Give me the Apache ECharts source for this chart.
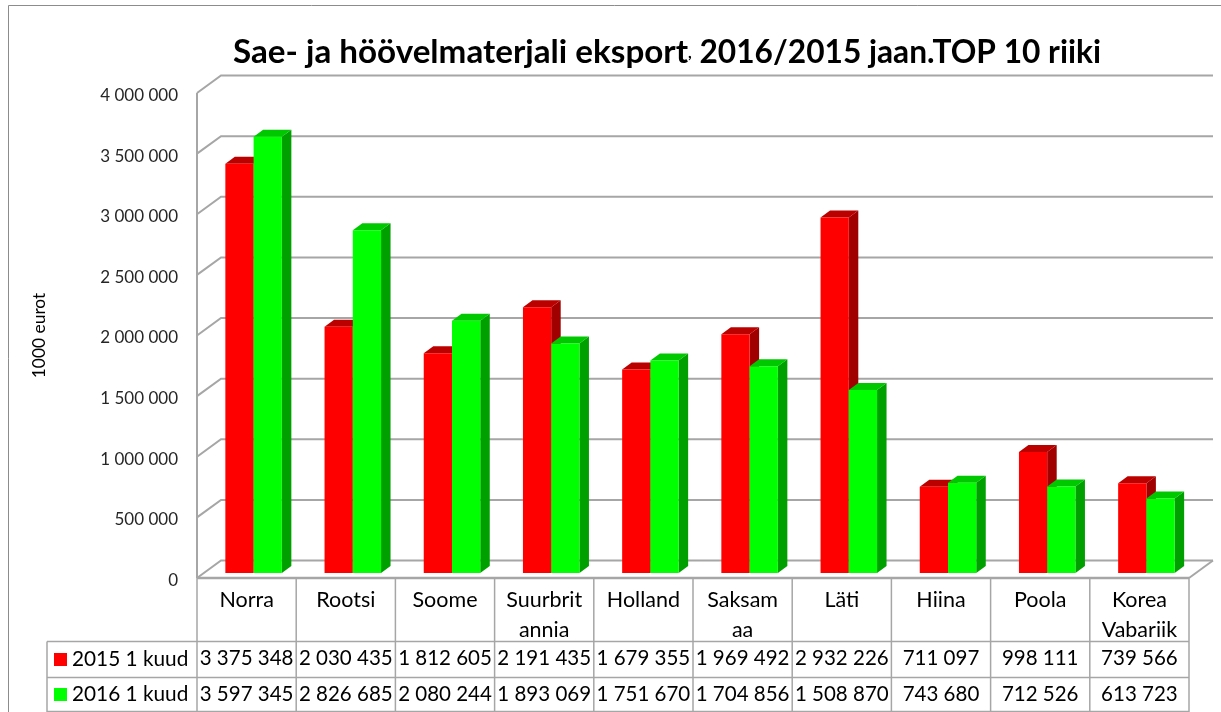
<!DOCTYPE html>
<html><head><meta charset="utf-8">
<style>html,body{margin:0;padding:0;background:#fff}#c{width:1221px;height:712px}</style>
<script src="https://cdn.jsdelivr.net/npm/echarts@6/dist/echarts.min.js"></script>
</head><body><div id="c"></div>
<script>
const categories = ['Norra','Rootsi','Soome','Suurbrit\nannia','Holland','Saksam\naa','Läti','Hiina','Poola','Korea\nVabariik'];
const values2015 = [3375348,2030435,1812605,2191435,1679355,1969492,2932226,711097,998111,739566];
const values2016 = [3597345,2826685,2080244,1893069,1751670,1704856,1508870,743680,712526,613723];
const yTicks = [0,500000,1000000,1500000,2000000,2500000,3000000,3500000,4000000];
const seriesNames = ['2015 1 kuud','2016 1 kuud'];

const FONT = 'Lato';
const GRID = {left:197, top:93, width:992, height:485};
const WALL = {dx:24, dy:-17.5};
const BASE = {dx:7, dy:-5};
const DEPTH = {dx:9.5, dy:-7};
const BAR_W = 28.25;
const LINE = '#a6a6a6', TXT = '#000';
const fmt = v => String(v).replace(/\B(?=(\d{3})+$)/g,' ');

function barRender(offset, front, top, side){
  return (params, api) => {
    const p = api.coord([api.value(0), api.value(1)]);
    const b = api.coord([api.value(0), 0]);
    const x1 = p[0] + BASE.dx + offset*BAR_W, x2 = x1 + BAR_W;
    const yt = p[1] + BASE.dy, yb = b[1] + BASE.dy;
    const d = DEPTH;
    return {type:'group', children:[
      {type:'polygon', shape:{points:[[x2,yb],[x2+d.dx,yb+d.dy],[x2+d.dx,yt+d.dy],[x2,yt]]}, style:{fill:side}},
      {type:'polygon', shape:{points:[[x1,yt],[x1+d.dx,yt+d.dy],[x2+d.dx,yt+d.dy],[x2,yt]]}, style:{fill:top}},
      {type:'rect', shape:{x:x1,y:yt,width:BAR_W,height:yb-yt}, style:{fill:front}}
    ]};
  };
}
function wallRender(params, api){
  const y = api.coord([0, api.value(0)])[1];
  const cs = params.coordSys;
  return {type:'polyline', shape:{points:[[cs.x,y],[cs.x+WALL.dx,y+WALL.dy],[cs.x+cs.width+WALL.dx,y+WALL.dy]]},
    style:{fill:'none',stroke:LINE,lineWidth:2}};
}
function rowRender(rowY, values){
  return (params, api) => {
    const c = api.coord([params.dataIndex, 0])[0];
    return {type:'text', style:{text:fmt(values[params.dataIndex]), x:c, y:rowY, align:'center', verticalAlign:'middle',
      font:'20.5px '+FONT, fill:TXT}};
  };
}
function floorRender(params){
  const cs = params.coordSys, b = cs.y+cs.height, r = cs.x+cs.width;
  const seg = (x1,y1,x2,y2,w)=>({type:'line',shape:{x1,y1,x2,y2},style:{stroke:LINE,lineWidth:w||1.5}});
  const kids = [
    seg(cs.x,cs.y,cs.x,b,2), seg(cs.x,b,r,b,2.5), seg(r,b,r+WALL.dx,b+WALL.dy,2),
    seg(47,641.5,r,641.5), seg(47,677.5,r,677.5), seg(47,711.5,r,711.5),
    seg(47,641.5,47,712), seg(r,b,r,712)
  ];
  for(let i=0;i<categories.length;i++){
    const x = cs.x + i*cs.width/categories.length;
    kids.push(seg(x,b,x,712));
  }
  return {type:'group',children:kids};
}

const chart = echarts.init(document.getElementById('c'),null,{renderer:'canvas'});
chart.setOption({
  animation:false, backgroundColor:'#fff',
  textStyle:{fontFamily:FONT},
  title:{left:233, top:36, padding:0,
    text:'{a|Sae- ja höövelmaterjali eksport}{b|,}{c| 2016/2015 jaan.TOP 10 riiki}',
    textStyle:{rich:{
      a:{fontFamily:FONT,fontWeight:'bold',fontSize:33.2,color:TXT},
      b:{fontFamily:FONT,fontWeight:'bold',fontSize:16,color:TXT},
      c:{fontFamily:FONT,fontWeight:'bold',fontSize:31.7,color:TXT}
    }}},
  legend:{data:seriesNames.map(n=>({name:n,icon:'rect'})), orient:'vertical', left:54, top:649,
    itemWidth:13, itemHeight:13, itemGap:14, selectedMode:false, padding:0,
    textStyle:{fontFamily:FONT,fontSize:20.8,color:TXT}},
  grid:Object.assign({containLabel:false},GRID),
  xAxis:{type:'category', data:categories, boundaryGap:true,
    axisLine:{show:false}, axisTick:{show:false}, splitLine:{show:false},
    axisLabel:{interval:0, margin:7, lineHeight:30, fontFamily:FONT, fontSize:21.5, color:TXT}},
  yAxis:{type:'value', min:0, max:4000000, interval:500000,
    name:'1000 eurot', nameLocation:'middle', nameGap:149, nameRotate:90,
    nameTextStyle:{fontFamily:FONT,fontSize:17.4,color:TXT},
    axisLine:{show:false}, axisTick:{show:false}, splitLine:{show:false},
    axisLabel:{margin:19, formatter:v=>'{v|'+fmt(v)+'}',
      rich:{v:{fontFamily:FONT, fontSize:17, color:'#262626', padding:[5,0,0,0]}}}},
  series:[
    {type:'custom', name:'walls', silent:true, z:1, renderItem:wallRender, data:yTicks.map(v=>[v]), encode:{y:0}},
    {type:'custom', name:'table', silent:true, z:5, renderItem:floorRender, data:[[0,0]], encode:{x:0,y:1}},
    {type:'custom', name:seriesNames[0], z:3, renderItem:barRender(-1,'#ff0000','#bb0000','#a00000'),
      itemStyle:{color:'#ff0000'}, data:values2015.map((v,i)=>[i,v]), encode:{x:0,y:1}},
    {type:'custom', name:seriesNames[1], z:4, renderItem:barRender(0,'#00ff00','#00c800','#00a000'),
      itemStyle:{color:'#00ff00'}, data:values2016.map((v,i)=>[i,v]), encode:{x:0,y:1}},
    {type:'custom', name:'row2015', silent:true, z:6, renderItem:rowRender(658.5,values2015), data:values2015.map((v,i)=>[i,0]), encode:{x:0,y:1}},
    {type:'custom', name:'row2016', silent:true, z:6, renderItem:rowRender(694.5,values2016), data:values2016.map((v,i)=>[i,0]), encode:{x:0,y:1}}
  ],
  graphic:[
    {type:'polyline', silent:true, z:0, shape:{points:[[8.5,712],[8.5,5.5],[1221,5.5]]}, style:{fill:'none',stroke:'#8c8c8c',lineWidth:1}}
  ]
});
</script></body></html>
